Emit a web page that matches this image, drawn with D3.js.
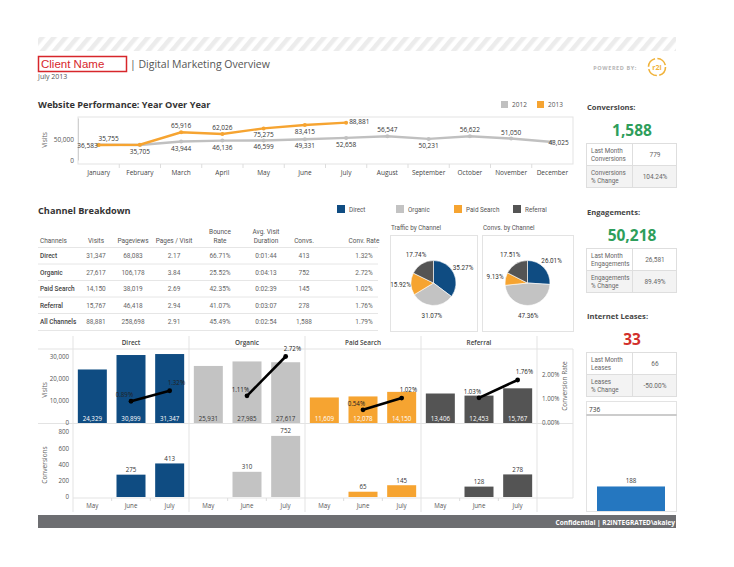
<!DOCTYPE html>
<html><head><meta charset="utf-8">
<script src="https://cdn.jsdelivr.net/npm/d3@7"></script>
<style>body{margin:0;background:#fff}svg{display:block;font-family:"Open Sans",sans-serif}</style>
</head><body>
<script>
// ---------- DATA ----------
const lineMonths = ["January","February","March","April","May","June","July","August","September","October","November","December"];
const visits2012 = [36583,35705,43944,46136,46599,49331,52658,56547,50231,56622,51050,43025];
const visits2013 = [35755,36400,65916,62026,75275,83415,88881];
const labelPos2012 = ["left","below","below","below","below","below","below","above","below","above","above","center"];
const labelPos2013 = ["aboveright","none","above","above","below","below","right"];
const lineYTicks = [0,50000];

const channels = ["Direct","Organic","Paid Search","Referral"];
const tableHeaders = [["Channels"],["Visits"],["Pageviews"],["Pages / Visit"],["Bounce","Rate"],["Avg. Visit","Duration"],["Convs."],["Conv. Rate"]];
const tableRowNames = ["Direct","Organic","Paid Search","Referral","All Channels"];
const tableVisits = ["31,347","27,617","14,150","15,767","88,881"];
const tablePageviews = ["68,083","106,178","38,019","46,418","258,698"];
const tablePagesPerVisit = ["2.17","3.84","2.69","2.94","2.91"];
const tableBounce = ["66.71%","25.52%","42.35%","41.07%","45.49%"];
const tableDuration = ["0:01:44","0:04:13","0:02:39","0:03:07","0:02:54"];
const tableConvs = ["413","752","145","278","1,588"];
const tableConvRate = ["1.32%","2.72%","1.02%","1.76%","1.79%"];

const trafficShare = [35.27,31.07,15.92,17.74];
const convShare = [26.01,47.36,9.13,17.51];

const barMonths = ["May","June","July"];
const monthlyVisits = [[24329,30899,31347],[25931,27985,27617],[11609,12078,14150],[13406,12453,15767]];
const monthlyConvRate = [[null,0.0089,0.0132],[null,0.0111,0.0272],[null,0.0054,0.0102],[null,0.0103,0.0176]];
const monthlyConversions = [[null,275,413],[null,310,752],[null,65,145],[null,128,278]];
const visitTicks = [0,10000,20000,30000];
const rateTicks = [0,0.01,0.02];
const convTicks = [0,200,400,600,800];

const kpiTitles = ["Conversions:","Engagements:","Internet Leases:"];
const kpiValues = [1588,50218,33];
const kpiRow1Labels = [["Last Month","Conversions"],["Last Month","Engagements"],["Last Month","Leases"]];
const kpiRow1Values = ["779","26,581","66"];
const kpiRow2Labels = [["Conversions","% Change"],["Engagements","% Change"],["Leases","% Change"]];
const kpiRow2Values = ["104.24%","89.49%","-50.00%"];
const leaseAxisMax = 736;
const leaseValue = 188;

// ---------- STYLE ----------
const chColors = ["#0f4c82","#c3c3c3","#f6a431","#545454"];
const c2012 = "#c0c0c0", c2013 = "#f6a431";
const txt = "#444", lite = "#e3e3e3";
const small = "Roboto, 'Open Sans', sans-serif";

const svg = d3.select("body").append("svg").attr("width",734).attr("height",567);
svg.append("rect").attr("width",734).attr("height",567).attr("fill","#fff");

// ---------- HEADER ----------
const defs = svg.append("defs");
const pat = defs.append("pattern").attr("id","stripes").attr("patternUnits","userSpaceOnUse")
  .attr("width",9).attr("height",9).attr("patternTransform","rotate(40)");
pat.append("rect").attr("width",4.5).attr("height",9).attr("fill","#ececec");
svg.append("rect").attr("x",38).attr("y",37).attr("width",638).attr("height",14).attr("fill","url(#stripes)");

svg.append("rect").attr("x",38.5).attr("y",56.5).attr("width",88).attr("height",15)
  .attr("fill","none").attr("stroke","#d7262b").attr("stroke-width",1.5);
svg.append("text").attr("x",41).attr("y",68).attr("font-family","Liberation Sans, Arial, sans-serif")
  .attr("font-size",11.5).attr("fill","#d7262b").text("Client Name");
svg.append("text").attr("x",130).attr("y",68).attr("font-size",10.5).attr("fill","#555").text("| Digital Marketing Overview");
svg.append("text").attr("x",38).attr("y",79).attr("font-size",7).attr("fill","#555").text("July 2013");
svg.append("text").attr("x",637).attr("y",70).attr("text-anchor","end").attr("font-size",5.5)
  .attr("font-weight","bold").attr("letter-spacing",0.6).attr("fill","#b5b5b5").text("POWERED BY:");
svg.append("circle").attr("cx",657).attr("cy",67).attr("r",8.5).attr("fill","none")
  .attr("stroke","#f0b23a").attr("stroke-width",1.6).attr("stroke-dasharray","11 2.4");
svg.append("text").attr("x",657).attr("y",69.5).attr("text-anchor","middle").attr("font-size",7)
  .attr("font-weight","bold").attr("fill","#f0b23a").text("r2i");

// ---------- LINE CHART ----------
svg.append("text").attr("x",38).attr("y",108).attr("font-size",9.2).attr("font-weight","bold")
  .attr("fill","#333").text("Website Performance: Year Over Year");
[[501,c2012,"2012"],[537,c2013,"2013"]].forEach(([x,c,t])=>{
  svg.append("rect").attr("x",x).attr("y",101).attr("width",7).attr("height",7).attr("fill",c);
  svg.append("text").attr("x",x+11).attr("y",107).attr("font-size",6.5).attr("fill","#555").text(t);
});
const lx = d3.scaleBand().domain(lineMonths).range([78,573]);
const ly = d3.scaleLinear().domain([0,100000]).range([160,118]);
svg.append("rect").attr("x",78).attr("y",117).attr("width",495).attr("height",47)
  .attr("fill","none").attr("stroke",lite);
lineMonths.forEach((m,i)=>{ if(i>0) svg.append("line").attr("x1",lx(m)).attr("x2",lx(m)).attr("y1",164).attr("y2",168).attr("stroke","#ddd"); });
const lyAxis = svg.append("g").attr("transform","translate(78,0)")
  .call(d3.axisLeft(ly).tickValues(lineYTicks).tickSize(0).tickPadding(4).tickFormat(d3.format(",")));
lyAxis.select(".domain").attr("stroke","#d0d0d0");
lyAxis.selectAll("text").attr("font-size",6.5).attr("fill","#555").attr("font-family","Open Sans");
svg.append("text").attr("transform","translate(47,140) rotate(-90)").attr("text-anchor","middle")
  .attr("font-size",6.5).attr("fill","#666").text("Visits");
const lxAxis = svg.append("g").attr("transform","translate(0,164)")
  .call(d3.axisBottom(lx).tickSize(0).tickPadding(6));
lxAxis.select(".domain").remove();
lxAxis.selectAll("text").attr("font-size",6.5).attr("fill",txt).attr("font-family","Open Sans");

const cx = m => lx(m)+lx.bandwidth()/2;
const lineGen = d3.line().x((d,i)=>cx(lineMonths[i])).y(d=>ly(d));
[[visits2012,c2012],[visits2013,c2013]].forEach(([vals,c])=>{
  svg.append("path").datum(vals).attr("d",lineGen).attr("fill","none").attr("stroke",c).attr("stroke-width",2.4);
  vals.forEach((v,i)=>{
    svg.append("circle").attr("cx",cx(lineMonths[i])).attr("cy",ly(v)).attr("r",2).attr("fill",c);
  });
});
[[visits2012,labelPos2012],[visits2013,labelPos2013]].forEach(([vals,pos])=>{
  vals.forEach((v,i)=>{
    const p = pos[i]; if(p==="none") return;
    const x = cx(lineMonths[i]), y = ly(v);
    let dx=0, dy=0, a="middle";
    if(p==="above"){dy=-4;}
    else if(p==="below"){dy=9;}
    else if(p==="aboveright"){dx=10;dy=-4;}
    else if(p==="left"){dx=-1;dy=3;a="end";}
    else if(p==="right"){dx=3;dy=1;a="start";}
    else if(p==="center"){dx=-4;dy=3;a="start";}
    svg.append("text").attr("x",x+dx).attr("y",y+dy).attr("text-anchor",a)
      .attr("font-size",6.5).attr("fill","#333").text(d3.format(",")(v));
  });
});

// ---------- CHANNEL BREAKDOWN ----------
svg.append("text").attr("x",38).attr("y",214).attr("font-size",9.2).attr("font-weight","bold")
  .attr("fill","#333").text("Channel Breakdown");
const legX = [337,396,454,513];
channels.forEach((c,i)=>{
  svg.append("rect").attr("x",legX[i]).attr("y",205).attr("width",8).attr("height",8).attr("fill",chColors[i]);
  svg.append("text").attr("x",legX[i]+12).attr("y",211.5).attr("font-size",6.3).attr("font-family",small).attr("fill","#555").text(c);
});
const colX = [40,96,133,174,220,266,304,364];
const cols = [tableRowNames,tableVisits,tablePageviews,tablePagesPerVisit,tableBounce,tableDuration,tableConvs,tableConvRate];
tableHeaders.forEach((h,j)=>{
  h.forEach((line,k)=>{
    const y = h.length===1 ? 243 : 234+k*8.5;
    svg.append("text").attr("x",colX[j]).attr("y",y).attr("text-anchor",j===0?"start":"middle")
      .attr("font-size",6.5).attr("font-family",small).attr("fill","#555").text(line);
  });
});
const rowY = [256,272.5,289,305.5,322];
rowY.forEach(y=>{
  svg.append("line").attr("x1",38).attr("x2",378).attr("y1",y-8.5).attr("y2",y-8.5).attr("stroke","#e6e6e6");
});
svg.append("line").attr("x1",38).attr("x2",378).attr("y1",330.5).attr("y2",330.5).attr("stroke","#e6e6e6");
rowY.forEach((y,i)=>{
  cols.forEach((col,j)=>{
    svg.append("text").attr("x",colX[j]).attr("y",y+2).attr("text-anchor",j===0?"start":"middle")
      .attr("font-size",6.5).attr("font-family",small).attr("fill",j===0?"#444":"#666")
      .attr("font-weight",j===0?"500":"normal").text(col[i]);
  });
});

// pies
[[trafficShare,"Traffic by Channel",390,477],[convShare,"Convs. by Channel",482,573]].forEach(([vals,title,x0,x1])=>{
  svg.append("text").attr("x",x0+1).attr("y",230).attr("font-size",6.3).attr("font-family",small).attr("fill","#555").text(title);
  svg.append("rect").attr("x",x0+0.5).attr("y",235.5).attr("width",x1-x0).attr("height",96)
    .attr("fill","none").attr("stroke","#e3e3e3");
  const pcx = (x0+x1)/2, pcy = 283;
  const arcs = d3.pie().sort(null).value(d=>d)(vals);
  const arc = d3.arc().innerRadius(0).outerRadius(22.5);
  const g = svg.append("g").attr("transform",`translate(${pcx},${pcy})`);
  g.selectAll("path").data(arcs).join("path").attr("d",arc).attr("fill",(d,i)=>chColors[i])
    .attr("stroke","#fff").attr("stroke-width",0.6);
  const lab = d3.arc().innerRadius(33).outerRadius(33);
  g.selectAll("text").data(arcs).join("text")
    .attr("transform",d=>`translate(${lab.centroid(d)})`).attr("text-anchor","middle").attr("dy","0.35em")
    .attr("font-size",6.3).attr("font-family",small).attr("fill","#333").text(d=>d.data.toFixed(2)+"%");
});

// ---------- SMALL MULTIPLES ----------
const panelX = [73,189,305,421,537];
const vy = d3.scaleLinear().domain([0,30000]).range([423,357]);
const ry = d3.scaleLinear().domain([0,0.027]).range([423,357]);
const cy = d3.scaleLinear().domain([0,800]).range([497,432]);
[[38,573,349],[38,573,423.5],[73,573,498]].forEach(([a,b,y])=>{
  svg.append("line").attr("x1",a).attr("x2",b).attr("y1",y).attr("y2",y).attr("stroke",lite);
});
panelX.forEach(x=>svg.append("line").attr("x1",x).attr("x2",x).attr("y1",336).attr("y2",512).attr("stroke",lite));
svg.append("line").attr("x1",573).attr("x2",573).attr("y1",349).attr("y2",498).attr("stroke",lite);

channels.forEach((ch,ci)=>{
  const x0 = panelX[ci], x1 = panelX[ci+1];
  svg.append("text").attr("x",(x0+x1)/2).attr("y",345).attr("text-anchor","middle")
    .attr("font-size",6.4).attr("font-weight","600").attr("fill","#444").text(ch);
  const bx = d3.scaleBand().domain(barMonths).range([x0,x1]).paddingInner(0.25).paddingOuter(0.125);
  const mid = m => bx(m)+bx.bandwidth()/2;
  monthlyVisits[ci].forEach((v,i)=>{
    svg.append("rect").attr("x",bx(barMonths[i])).attr("y",vy(v)).attr("width",bx.bandwidth())
      .attr("height",vy(0)-vy(v)).attr("fill",chColors[ci]);
    svg.append("text").attr("x",mid(barMonths[i])).attr("y",421).attr("text-anchor","middle")
      .attr("font-size",6.2).attr("fill",ci===1?"#333":"#fff").text(d3.format(",")(v));
  });
  const pts = monthlyConvRate[ci].map((r,i)=>[r,i]).filter(d=>d[0]!==null);
  svg.append("path").datum(pts).attr("d",d3.line().x(d=>mid(barMonths[d[1]])).y(d=>ry(d[0])))
    .attr("fill","none").attr("stroke","#000").attr("stroke-width",2.6);
  pts.forEach((d,k)=>{
    const x = mid(barMonths[d[1]]), y = ry(d[0]);
    svg.append("circle").attr("cx",x).attr("cy",y).attr("r",2.4).attr("fill","#000");
    svg.append("text").attr("x",k===0?x+2:x-2).attr("y",k===0?y-4:y-6)
      .attr("text-anchor",k===0?"end":"start").attr("font-size",6.2).attr("fill","#222")
      .text(d3.format(".2%")(d[0]));
  });
  monthlyConversions[ci].forEach((v,i)=>{
    if(v===null) return;
    svg.append("rect").attr("x",bx(barMonths[i])).attr("y",cy(v)).attr("width",bx.bandwidth())
      .attr("height",cy(0)-cy(v)).attr("fill",chColors[ci]);
    svg.append("text").attr("x",mid(barMonths[i])).attr("y",cy(v)-2.5).attr("text-anchor","middle")
      .attr("font-size",6.2).attr("fill","#333").text(v);
  });
  barMonths.forEach((m,i)=>{
    svg.append("text").attr("x",mid(m)).attr("y",508).attr("text-anchor","middle")
      .attr("font-size",6.2).attr("fill","#555").text(m);
    if(i>0){ const bxl = bx(m)-bx.step()*bx.paddingInner()/2;
      svg.append("line").attr("x1",bxl).attr("x2",bxl).attr("y1",498).attr("y2",501).attr("stroke","#ddd"); }
  });
});
function styleAxis(g){ g.select(".domain").remove(); g.selectAll("text").attr("font-size",6.2).attr("fill","#555").attr("font-family","Open Sans"); }
svg.append("g").attr("transform","translate(73,0)")
  .call(d3.axisLeft(vy).tickValues(visitTicks).tickSize(0).tickPadding(4).tickFormat(d3.format(","))).call(styleAxis);
svg.append("g").attr("transform","translate(537,0)")
  .call(d3.axisRight(ry).tickValues(rateTicks).tickSize(0).tickPadding(5).tickFormat(d3.format(".2%"))).call(styleAxis);
svg.append("g").attr("transform","translate(73,0)")
  .call(d3.axisLeft(cy).tickValues(convTicks).tickSize(0).tickPadding(4)).call(styleAxis);
svg.append("text").attr("transform","translate(47,390) rotate(-90)").attr("text-anchor","middle")
  .attr("font-size",6.5).attr("fill","#666").text("Visits");
svg.append("text").attr("transform","translate(47,465) rotate(-90)").attr("text-anchor","middle")
  .attr("font-size",6.5).attr("fill","#666").text("Conversions");
svg.append("text").attr("transform","translate(567,386) rotate(-90)").attr("text-anchor","middle")
  .attr("font-size",6.5).attr("fill","#666").text("Conversion Rate");

// ---------- KPI PANEL ----------
const kpiTitleY = [110,215,319];
const kpiColors = ["#2e9e5b","#2e9e5b","#d2302c"];
kpiTitles.forEach((t,i)=>{
  const ty = kpiTitleY[i];
  svg.append("text").attr("x",587).attr("y",ty).attr("font-size",7.6).attr("font-weight","bold")
    .attr("fill","#444").text(t);
  svg.append("text").attr("x",632).attr("y",ty+26).attr("text-anchor","middle").attr("font-size",15.5)
    .attr("font-weight","bold").attr("fill",kpiColors[i]).text(d3.format(",")(kpiValues[i]));
  const by = ty+33;
  svg.append("rect").attr("x",586.5).attr("y",by+22).attr("width",90).attr("height",22).attr("fill","#f3f3f3");
  svg.append("rect").attr("x",586.5).attr("y",by+0.5).attr("width",90).attr("height",44).attr("fill","none").attr("stroke","#dedede");
  svg.append("line").attr("x1",586.5).attr("x2",676.5).attr("y1",by+22.5).attr("y2",by+22.5).attr("stroke","#dedede");
  svg.append("line").attr("x1",632.5).attr("x2",632.5).attr("y1",by).attr("y2",by+44).attr("stroke","#dedede");
  [[kpiRow1Labels[i],kpiRow1Values[i],0],[kpiRow2Labels[i],kpiRow2Values[i],22]].forEach(([lbl,val,off])=>{
    lbl.forEach((l,k)=>svg.append("text").attr("x",591).attr("y",by+off+9.5+k*8).attr("font-size",6.3)
      .attr("font-family",small).attr("fill","#666").text(l));
    svg.append("text").attr("x",655).attr("y",by+off+14).attr("text-anchor","middle").attr("font-size",6.5)
      .attr("font-family",small).attr("fill","#666").text(val);
  });
});
svg.append("rect").attr("x",586.5).attr("y",401.5).attr("width",90).attr("height",110).attr("fill","none").attr("stroke","#e3e3e3");
svg.append("line").attr("x1",586.5).attr("x2",676.5).attr("y1",415).attr("y2",415).attr("stroke","#999");
const lsy = d3.scaleLinear().domain([0,leaseAxisMax]).range([511,415]);
svg.append("text").attr("x",589).attr("y",412).attr("font-size",6.5).attr("fill","#333").text(leaseAxisMax);
svg.append("rect").attr("x",597).attr("y",lsy(leaseValue)).attr("width",68).attr("height",lsy(0)-lsy(leaseValue)).attr("fill","#2577c0");
svg.append("text").attr("x",631).attr("y",lsy(leaseValue)-3).attr("text-anchor","middle").attr("font-size",6.2).attr("fill","#333").text(leaseValue);

// ---------- FOOTER ----------
svg.append("rect").attr("x",38).attr("y",515).attr("width",638).attr("height",13).attr("fill","#6d6e71");
svg.append("text").attr("x",675).attr("y",524.5).attr("text-anchor","end").attr("font-size",6.5)
  .attr("font-weight","bold").attr("fill","#fff").text("Confidential | R2INTEGRATED\\akaley");
</script>
</body></html>
